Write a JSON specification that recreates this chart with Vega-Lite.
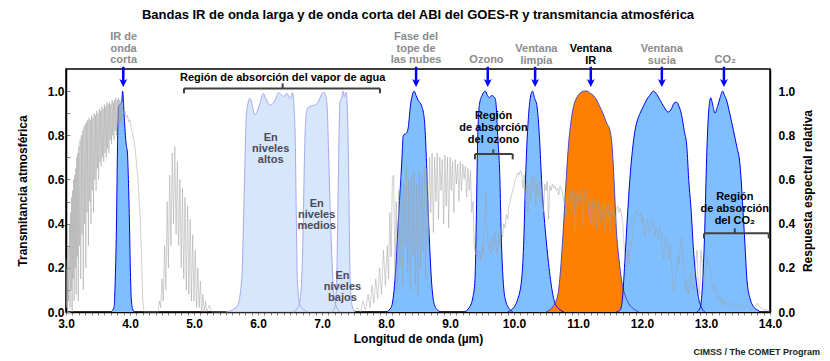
{
  "$schema": "https://vega.github.io/schema/vega-lite/v6.json",
  "width": 704,
  "height": 243,
  "autosize": {"type": "none"},
  "padding": {"left": 66, "top": 69, "right": 60, "bottom": 49},
  "title": {
    "text": "Bandas IR de onda larga y de onda corta del ABI del GOES-R y transmitancia atmosférica",
    "font": "Liberation Sans", "fontSize": 13, "fontWeight": "bold", "color": "black",
    "anchor": "middle", "offset": 9
  },
  "config": {
    "font": "Liberation Sans",
    "view": {"stroke": "black", "strokeWidth": 1.5},
    "axis": {
      "grid": false, "labelFont": "Liberation Sans", "labelFontWeight": "bold", "labelFontSize": 12,
      "labelColor": "black", "titleFont": "Liberation Sans", "titleFontWeight": "bold", "titleFontSize": 12,
      "titleColor": "black", "domainColor": "black", "domainWidth": 1.5, "tickColor": "#888888"
    }
  },
  "datasets": {
    "bands": [
      {"band":"b07","wl":3.70,"r":0},{"band":"b07","wl":3.75,"r":0.02},{"band":"b07","wl":3.77,"r":0.15},{"band":"b07","wl":3.79,"r":0.42},{"band":"b07","wl":3.805,"r":0.75},{"band":"b07","wl":3.82,"r":0.93},{"band":"b07","wl":3.85,"r":0.94},{"band":"b07","wl":3.87,"r":0.95},{"band":"b07","wl":3.885,"r":1.0},{"band":"b07","wl":3.91,"r":0.88},{"band":"b07","wl":3.94,"r":0.76},{"band":"b07","wl":3.96,"r":0.72},{"band":"b07","wl":3.975,"r":0.6},{"band":"b07","wl":3.99,"r":0.42},{"band":"b07","wl":4.005,"r":0.2},{"band":"b07","wl":4.02,"r":0.06},{"band":"b07","wl":4.04,"r":0.015},{"band":"b07","wl":4.07,"r":0},
      {"band":"b08","wl":5.50,"r":0},{"band":"b08","wl":5.60,"r":0.01},{"band":"b08","wl":5.68,"r":0.03},{"band":"b08","wl":5.745,"r":0.145},{"band":"b08","wl":5.79,"r":0.6},{"band":"b08","wl":5.82,"r":0.9},{"band":"b08","wl":5.875,"r":0.967},{"band":"b08","wl":5.953,"r":0.892},{"band":"b08","wl":6.03,"r":0.944},{"band":"b08","wl":6.083,"r":0.989},{"band":"b08","wl":6.13,"r":0.96},{"band":"b08","wl":6.19,"r":0.937},{"band":"b08","wl":6.27,"r":0.96},{"band":"b08","wl":6.32,"r":0.993},{"band":"b08","wl":6.40,"r":0.975},{"band":"b08","wl":6.45,"r":0.99},{"band":"b08","wl":6.50,"r":0.967},{"band":"b08","wl":6.54,"r":0.993},{"band":"b08","wl":6.578,"r":0.824},{"band":"b08","wl":6.6,"r":0.4},{"band":"b08","wl":6.615,"r":0.145},{"band":"b08","wl":6.656,"r":0.03},{"band":"b08","wl":6.72,"r":0.01},{"band":"b08","wl":6.78,"r":0},
      {"band":"b09","wl":6.55,"r":0},{"band":"b09","wl":6.62,"r":0.02},{"band":"b09","wl":6.66,"r":0.06},{"band":"b09","wl":6.70,"r":0.3},{"band":"b09","wl":6.73,"r":0.75},{"band":"b09","wl":6.76,"r":0.91},{"band":"b09","wl":6.80,"r":0.93},{"band":"b09","wl":6.87,"r":0.935},{"band":"b09","wl":6.93,"r":0.945},{"band":"b09","wl":6.97,"r":0.97},{"band":"b09","wl":7.02,"r":0.995},{"band":"b09","wl":7.06,"r":0.98},{"band":"b09","wl":7.085,"r":0.9},{"band":"b09","wl":7.10,"r":0.75},{"band":"b09","wl":7.13,"r":0.45},{"band":"b09","wl":7.15,"r":0.28},{"band":"b09","wl":7.18,"r":0.1},{"band":"b09","wl":7.22,"r":0.03},{"band":"b09","wl":7.28,"r":0},
      {"band":"b10","wl":7.15,"r":0},{"band":"b10","wl":7.20,"r":0.02},{"band":"b10","wl":7.23,"r":0.15},{"band":"b10","wl":7.255,"r":0.6},{"band":"b10","wl":7.28,"r":0.95},{"band":"b10","wl":7.31,"r":0.97},{"band":"b10","wl":7.33,"r":1.0},{"band":"b10","wl":7.35,"r":0.975},{"band":"b10","wl":7.375,"r":0.995},{"band":"b10","wl":7.395,"r":0.93},{"band":"b10","wl":7.41,"r":0.75},{"band":"b10","wl":7.44,"r":0.15},{"band":"b10","wl":7.47,"r":0.03},{"band":"b10","wl":7.52,"r":0},
      {"band":"b11","wl":8.00,"r":0},{"band":"b11","wl":8.08,"r":0.02},{"band":"b11","wl":8.14,"r":0.145},{"band":"b11","wl":8.20,"r":0.45},{"band":"b11","wl":8.245,"r":0.67},{"band":"b11","wl":8.27,"r":0.8},{"band":"b11","wl":8.32,"r":0.81},{"band":"b11","wl":8.35,"r":0.84},{"band":"b11","wl":8.38,"r":0.93},{"band":"b11","wl":8.41,"r":0.98},{"band":"b11","wl":8.44,"r":1.0},{"band":"b11","wl":8.47,"r":0.98},{"band":"b11","wl":8.50,"r":0.96},{"band":"b11","wl":8.56,"r":0.93},{"band":"b11","wl":8.60,"r":0.87},{"band":"b11","wl":8.63,"r":0.7},{"band":"b11","wl":8.66,"r":0.45},{"band":"b11","wl":8.69,"r":0.25},{"band":"b11","wl":8.71,"r":0.145},{"band":"b11","wl":8.75,"r":0.04},{"band":"b11","wl":8.80,"r":0.01},{"band":"b11","wl":8.86,"r":0},
      {"band":"b12","wl":9.22,"r":0},{"band":"b12","wl":9.30,"r":0.02},{"band":"b12","wl":9.36,"r":0.07},{"band":"b12","wl":9.39,"r":0.145},{"band":"b12","wl":9.41,"r":0.4},{"band":"b12","wl":9.43,"r":0.75},{"band":"b12","wl":9.46,"r":0.94},{"band":"b12","wl":9.50,"r":0.98},{"band":"b12","wl":9.55,"r":1.0},{"band":"b12","wl":9.585,"r":0.98},{"band":"b12","wl":9.62,"r":0.97},{"band":"b12","wl":9.65,"r":0.98},{"band":"b12","wl":9.70,"r":0.97},{"band":"b12","wl":9.72,"r":0.94},{"band":"b12","wl":9.745,"r":0.8},{"band":"b12","wl":9.78,"r":0.6},{"band":"b12","wl":9.80,"r":0.35},{"band":"b12","wl":9.83,"r":0.145},{"band":"b12","wl":9.87,"r":0.05},{"band":"b12","wl":9.94,"r":0.01},{"band":"b12","wl":9.98,"r":0},
      {"band":"b13","wl":9.90,"r":0},{"band":"b13","wl":9.96,"r":0.01},{"band":"b13","wl":10.06,"r":0.06},{"band":"b13","wl":10.12,"r":0.15},{"band":"b13","wl":10.15,"r":0.3},{"band":"b13","wl":10.18,"r":0.6},{"band":"b13","wl":10.20,"r":0.75},{"band":"b13","wl":10.23,"r":0.9},{"band":"b13","wl":10.25,"r":0.96},{"band":"b13","wl":10.29,"r":1.0},{"band":"b13","wl":10.32,"r":0.97},{"band":"b13","wl":10.36,"r":0.93},{"band":"b13","wl":10.40,"r":0.78},{"band":"b13","wl":10.43,"r":0.6},{"band":"b13","wl":10.48,"r":0.4},{"band":"b13","wl":10.54,"r":0.22},{"band":"b13","wl":10.60,"r":0.09},{"band":"b13","wl":10.64,"r":0.04},{"band":"b13","wl":10.72,"r":0.01},{"band":"b13","wl":10.78,"r":0},
      {"band":"b14","wl":10.50,"r":0},{"band":"b14","wl":10.56,"r":0.01},{"band":"b14","wl":10.62,"r":0.03},{"band":"b14","wl":10.69,"r":0.085},{"band":"b14","wl":10.73,"r":0.2},{"band":"b14","wl":10.77,"r":0.37},{"band":"b14","wl":10.81,"r":0.57},{"band":"b14","wl":10.85,"r":0.75},{"band":"b14","wl":10.89,"r":0.86},{"band":"b14","wl":10.93,"r":0.93},{"band":"b14","wl":10.98,"r":0.97},{"band":"b14","wl":11.03,"r":0.99},{"band":"b14","wl":11.10,"r":1.0},{"band":"b14","wl":11.14,"r":1.0},{"band":"b14","wl":11.19,"r":0.99},{"band":"b14","wl":11.24,"r":0.98},{"band":"b14","wl":11.29,"r":0.96},{"band":"b14","wl":11.34,"r":0.93},{"band":"b14","wl":11.39,"r":0.9},{"band":"b14","wl":11.44,"r":0.86},{"band":"b14","wl":11.50,"r":0.82},{"band":"b14","wl":11.53,"r":0.76},{"band":"b14","wl":11.55,"r":0.67},{"band":"b14","wl":11.575,"r":0.52},{"band":"b14","wl":11.60,"r":0.37},{"band":"b14","wl":11.64,"r":0.24},{"band":"b14","wl":11.68,"r":0.145},{"band":"b14","wl":11.73,"r":0.08},{"band":"b14","wl":11.79,"r":0.04},{"band":"b14","wl":11.89,"r":0.01},{"band":"b14","wl":11.95,"r":0},
      {"band":"b15","wl":11.60,"r":0},{"band":"b15","wl":11.66,"r":0.01},{"band":"b15","wl":11.70,"r":0.08},{"band":"b15","wl":11.73,"r":0.22},{"band":"b15","wl":11.77,"r":0.42},{"band":"b15","wl":11.81,"r":0.6},{"band":"b15","wl":11.85,"r":0.73},{"band":"b15","wl":11.89,"r":0.82},{"band":"b15","wl":11.93,"r":0.87},{"band":"b15","wl":11.97,"r":0.9},{"band":"b15","wl":12.02,"r":0.93},{"band":"b15","wl":12.07,"r":0.96},{"band":"b15","wl":12.12,"r":0.98},{"band":"b15","wl":12.18,"r":1.0},{"band":"b15","wl":12.23,"r":0.985},{"band":"b15","wl":12.28,"r":0.96},{"band":"b15","wl":12.34,"r":0.93},{"band":"b15","wl":12.41,"r":0.905},{"band":"b15","wl":12.46,"r":0.92},{"band":"b15","wl":12.50,"r":0.945},{"band":"b15","wl":12.54,"r":0.95},{"band":"b15","wl":12.58,"r":0.93},{"band":"b15","wl":12.62,"r":0.89},{"band":"b15","wl":12.66,"r":0.82},{"band":"b15","wl":12.70,"r":0.75},{"band":"b15","wl":12.73,"r":0.6},{"band":"b15","wl":12.77,"r":0.45},{"band":"b15","wl":12.80,"r":0.3},{"band":"b15","wl":12.84,"r":0.16},{"band":"b15","wl":12.88,"r":0.07},{"band":"b15","wl":12.93,"r":0.02},{"band":"b15","wl":12.98,"r":0},
      {"band":"b16","wl":12.86,"r":0},{"band":"b16","wl":12.91,"r":0.02},{"band":"b16","wl":12.95,"r":0.15},{"band":"b16","wl":12.98,"r":0.37},{"band":"b16","wl":13.01,"r":0.7},{"band":"b16","wl":13.04,"r":0.9},{"band":"b16","wl":13.075,"r":0.97},{"band":"b16","wl":13.11,"r":0.93},{"band":"b16","wl":13.14,"r":0.9},{"band":"b16","wl":13.18,"r":0.93},{"band":"b16","wl":13.22,"r":0.97},{"band":"b16","wl":13.26,"r":1.0},{"band":"b16","wl":13.29,"r":0.98},{"band":"b16","wl":13.32,"r":0.96},{"band":"b16","wl":13.37,"r":0.9},{"band":"b16","wl":13.43,"r":0.82},{"band":"b16","wl":13.48,"r":0.75},{"band":"b16","wl":13.53,"r":0.67},{"band":"b16","wl":13.56,"r":0.55},{"band":"b16","wl":13.58,"r":0.45},{"band":"b16","wl":13.61,"r":0.3},{"band":"b16","wl":13.64,"r":0.145},{"band":"b16","wl":13.69,"r":0.06},{"band":"b16","wl":13.74,"r":0.025},{"band":"b16","wl":13.80,"r":0.01},{"band":"b16","wl":13.85,"r":0}
    ],
    "trans": [
      {"wl":3.000,"t":0.24},{"wl":3.008,"t":0.02},{"wl":3.016,"t":0.20},{"wl":3.024,"t":0.00},{"wl":3.032,"t":0.30},{"wl":3.040,"t":0.05},{"wl":3.048,"t":0.18},{"wl":3.056,"t":0.40},{"wl":3.064,"t":0.02},{"wl":3.072,"t":0.45},{"wl":3.080,"t":0.10},{"wl":3.088,"t":0.52},{"wl":3.096,"t":0.00},{"wl":3.104,"t":0.55},{"wl":3.112,"t":0.15},{"wl":3.120,"t":0.60},{"wl":3.128,"t":0.05},{"wl":3.136,"t":0.62},{"wl":3.144,"t":0.20},{"wl":3.152,"t":0.65},{"wl":3.160,"t":0.08},{"wl":3.168,"t":0.70},{"wl":3.176,"t":0.25},{"wl":3.184,"t":0.72},{"wl":3.192,"t":0.05},{"wl":3.200,"t":0.75},{"wl":3.210,"t":0.30},{"wl":3.220,"t":0.78},{"wl":3.230,"t":0.15},{"wl":3.240,"t":0.80},{"wl":3.250,"t":0.35},{"wl":3.260,"t":0.82},{"wl":3.270,"t":0.10},{"wl":3.280,"t":0.84},{"wl":3.290,"t":0.40},{"wl":3.300,"t":0.85},{"wl":3.310,"t":0.20},{"wl":3.320,"t":0.86},{"wl":3.330,"t":0.45},{"wl":3.340,"t":0.87},{"wl":3.350,"t":0.30},{"wl":3.360,"t":0.88},{"wl":3.370,"t":0.50},{"wl":3.380,"t":0.87},{"wl":3.390,"t":0.40},{"wl":3.400,"t":0.89},{"wl":3.410,"t":0.55},{"wl":3.420,"t":0.88},{"wl":3.430,"t":0.45},{"wl":3.440,"t":0.90},{"wl":3.450,"t":0.60},{"wl":3.460,"t":0.89},{"wl":3.470,"t":0.55},{"wl":3.480,"t":0.91},{"wl":3.490,"t":0.65},{"wl":3.500,"t":0.90},{"wl":3.510,"t":0.60},{"wl":3.520,"t":0.92},{"wl":3.530,"t":0.68},{"wl":3.540,"t":0.91},{"wl":3.550,"t":0.66},{"wl":3.560,"t":0.93},{"wl":3.570,"t":0.70},{"wl":3.580,"t":0.92},{"wl":3.590,"t":0.68},{"wl":3.600,"t":0.94},{"wl":3.610,"t":0.72},{"wl":3.620,"t":0.93},{"wl":3.630,"t":0.70},{"wl":3.640,"t":0.95},{"wl":3.650,"t":0.74},{"wl":3.660,"t":0.94},{"wl":3.670,"t":0.72},{"wl":3.680,"t":0.95},{"wl":3.690,"t":0.78},{"wl":3.700,"t":0.94},{"wl":3.710,"t":0.76},{"wl":3.720,"t":0.96},{"wl":3.730,"t":0.80},{"wl":3.740,"t":0.95},{"wl":3.750,"t":0.78},{"wl":3.760,"t":0.96},{"wl":3.770,"t":0.82},{"wl":3.780,"t":0.97},{"wl":3.790,"t":0.80},{"wl":3.800,"t":0.96},{"wl":3.810,"t":0.85},{"wl":3.820,"t":0.97},{"wl":3.830,"t":0.83},{"wl":3.840,"t":0.96},{"wl":3.850,"t":0.86},{"wl":3.860,"t":0.95},{"wl":3.870,"t":0.84},{"wl":3.880,"t":0.93},{"wl":3.900,"t":0.90},{"wl":3.920,"t":0.91},{"wl":3.940,"t":0.88},{"wl":3.960,"t":0.89},{"wl":3.980,"t":0.86},{"wl":4.000,"t":0.87},{"wl":4.020,"t":0.83},{"wl":4.040,"t":0.81},{"wl":4.060,"t":0.78},{"wl":4.080,"t":0.74},{"wl":4.100,"t":0.68},{"wl":4.120,"t":0.62},{"wl":4.140,"t":0.52},{"wl":4.160,"t":0.42},{"wl":4.180,"t":0.25},{"wl":4.200,"t":0.05},{"wl":4.220,"t":0.00},
      {"wl":4.44,"t":0.00},{"wl":4.46,"t":0.05},{"wl":4.48,"t":0.02},{"wl":4.50,"t":0.15},{"wl":4.52,"t":0.05},{"wl":4.54,"t":0.30},{"wl":4.56,"t":0.10},{"wl":4.58,"t":0.50},{"wl":4.60,"t":0.20},{"wl":4.62,"t":0.62},{"wl":4.64,"t":0.30},{"wl":4.66,"t":0.72},{"wl":4.68,"t":0.40},{"wl":4.70,"t":0.75},{"wl":4.72,"t":0.35},{"wl":4.74,"t":0.68},{"wl":4.76,"t":0.30},{"wl":4.78,"t":0.60},{"wl":4.80,"t":0.20},{"wl":4.82,"t":0.56},{"wl":4.84,"t":0.15},{"wl":4.86,"t":0.52},{"wl":4.88,"t":0.10},{"wl":4.90,"t":0.48},{"wl":4.92,"t":0.08},{"wl":4.94,"t":0.42},{"wl":4.96,"t":0.05},{"wl":4.98,"t":0.35},{"wl":5.00,"t":0.05},{"wl":5.02,"t":0.28},{"wl":5.04,"t":0.02},{"wl":5.06,"t":0.20},{"wl":5.08,"t":0.02},{"wl":5.10,"t":0.14},{"wl":5.12,"t":0.00},{"wl":5.14,"t":0.08},{"wl":5.16,"t":0.00},{"wl":5.18,"t":0.05},{"wl":5.20,"t":0.00},{"wl":5.24,"t":0.03},{"wl":5.28,"t":0.00},{"wl":7.50,"t":0.00},
      {"wl":7.55,"t":0.02},{"wl":7.60,"t":0.00},{"wl":7.64,"t":0.05},{"wl":7.68,"t":0.01},{"wl":7.72,"t":0.08},{"wl":7.75,"t":0.02},{"wl":7.78,"t":0.12},{"wl":7.81,"t":0.04},{"wl":7.84,"t":0.15},{"wl":7.87,"t":0.06},{"wl":7.90,"t":0.20},{"wl":7.93,"t":0.08},{"wl":7.96,"t":0.28},{"wl":7.99,"t":0.12},{"wl":8.02,"t":0.30},{"wl":8.04,"t":0.15},{"wl":8.06,"t":0.45},{"wl":8.08,"t":0.25},{"wl":8.10,"t":0.60},{"wl":8.12,"t":0.62},{"wl":8.14,"t":0.15},{"wl":8.16,"t":0.50},{"wl":8.18,"t":0.10},{"wl":8.20,"t":0.55},{"wl":8.22,"t":0.20},{"wl":8.24,"t":0.62},{"wl":8.26,"t":0.12},{"wl":8.28,"t":0.58},{"wl":8.30,"t":0.30},{"wl":8.32,"t":0.66},{"wl":8.34,"t":0.18},{"wl":8.36,"t":0.60},{"wl":8.38,"t":0.10},{"wl":8.40,"t":0.62},{"wl":8.42,"t":0.25},{"wl":8.44,"t":0.64},{"wl":8.46,"t":0.12},{"wl":8.48,"t":0.58},{"wl":8.50,"t":0.08},{"wl":8.52,"t":0.64},{"wl":8.54,"t":0.20},{"wl":8.56,"t":0.62},{"wl":8.58,"t":0.28},{"wl":8.60,"t":0.66},{"wl":8.62,"t":0.15},{"wl":8.64,"t":0.65},{"wl":8.66,"t":0.35},{"wl":8.68,"t":0.70},{"wl":8.70,"t":0.45},{"wl":8.72,"t":0.72},{"wl":8.74,"t":0.36},{"wl":8.76,"t":0.70},{"wl":8.78,"t":0.50},{"wl":8.80,"t":0.72},{"wl":8.82,"t":0.42},{"wl":8.84,"t":0.70},{"wl":8.86,"t":0.55},{"wl":8.88,"t":0.69},{"wl":8.90,"t":0.40},{"wl":8.92,"t":0.71},{"wl":8.94,"t":0.48},{"wl":8.96,"t":0.70},{"wl":8.98,"t":0.38},{"wl":9.00,"t":0.70},{"wl":9.02,"t":0.55},{"wl":9.04,"t":0.68},{"wl":9.06,"t":0.45},{"wl":9.08,"t":0.69},{"wl":9.10,"t":0.58},{"wl":9.12,"t":0.67},{"wl":9.14,"t":0.50},{"wl":9.16,"t":0.68},{"wl":9.18,"t":0.55},{"wl":9.20,"t":0.67},{"wl":9.22,"t":0.60},{"wl":9.24,"t":0.66},{"wl":9.26,"t":0.52},{"wl":9.28,"t":0.65},{"wl":9.30,"t":0.55},{"wl":9.32,"t":0.64},{"wl":9.34,"t":0.45},{"wl":9.36,"t":0.50},{"wl":9.38,"t":0.30},{"wl":9.40,"t":0.26},{"wl":9.42,"t":0.30},{"wl":9.44,"t":0.24},{"wl":9.46,"t":0.28},{"wl":9.48,"t":0.23},{"wl":9.50,"t":0.30},{"wl":9.52,"t":0.26},{"wl":9.54,"t":0.40},{"wl":9.56,"t":0.54},{"wl":9.58,"t":0.35},{"wl":9.60,"t":0.28},{"wl":9.62,"t":0.32},{"wl":9.64,"t":0.26},{"wl":9.66,"t":0.34},{"wl":9.68,"t":0.28},{"wl":9.70,"t":0.36},{"wl":9.72,"t":0.30},{"wl":9.74,"t":0.26},{"wl":9.76,"t":0.36},{"wl":9.78,"t":0.30},{"wl":9.80,"t":0.38},{"wl":9.82,"t":0.34},{"wl":9.84,"t":0.40},{"wl":9.86,"t":0.38},{"wl":9.88,"t":0.44},{"wl":9.90,"t":0.42},{"wl":9.92,"t":0.48},{"wl":9.94,"t":0.50},{"wl":9.96,"t":0.53},{"wl":9.98,"t":0.55},{"wl":10.00,"t":0.57},{"wl":10.02,"t":0.60},{"wl":10.04,"t":0.61},{"wl":10.06,"t":0.63},{"wl":10.08,"t":0.62},{"wl":10.10,"t":0.64},{"wl":10.12,"t":0.63},{"wl":10.14,"t":0.56},{"wl":10.16,"t":0.62},{"wl":10.18,"t":0.50},{"wl":10.20,"t":0.60},{"wl":10.22,"t":0.45},{"wl":10.24,"t":0.58},{"wl":10.26,"t":0.50},{"wl":10.28,"t":0.62},{"wl":10.30,"t":0.55},{"wl":10.32,"t":0.61},{"wl":10.34,"t":0.48},{"wl":10.36,"t":0.58},{"wl":10.38,"t":0.52},{"wl":10.40,"t":0.60},{"wl":10.42,"t":0.50},{"wl":10.44,"t":0.57},{"wl":10.46,"t":0.45},{"wl":10.48,"t":0.58},{"wl":10.50,"t":0.55},{"wl":10.52,"t":0.59},{"wl":10.54,"t":0.42},{"wl":10.56,"t":0.57},{"wl":10.58,"t":0.55},{"wl":10.60,"t":0.58},{"wl":10.62,"t":0.56},{"wl":10.64,"t":0.57},{"wl":10.66,"t":0.55},{"wl":10.68,"t":0.56},{"wl":10.70,"t":0.53},{"wl":10.72,"t":0.57},{"wl":10.75,"t":0.55},{"wl":10.78,"t":0.50},{"wl":10.80,"t":0.54},{"wl":10.82,"t":0.44},{"wl":10.84,"t":0.52},{"wl":10.86,"t":0.50},{"wl":10.88,"t":0.55},{"wl":10.90,"t":0.45},{"wl":10.92,"t":0.56},{"wl":10.94,"t":0.52},{"wl":10.96,"t":0.36},{"wl":10.98,"t":0.54},{"wl":11.00,"t":0.48},{"wl":11.02,"t":0.56},{"wl":11.04,"t":0.50},{"wl":11.06,"t":0.55},{"wl":11.08,"t":0.38},{"wl":11.10,"t":0.54},{"wl":11.12,"t":0.52},{"wl":11.14,"t":0.56},{"wl":11.16,"t":0.44},{"wl":11.18,"t":0.54},{"wl":11.20,"t":0.40},{"wl":11.22,"t":0.52},{"wl":11.24,"t":0.38},{"wl":11.26,"t":0.50},{"wl":11.28,"t":0.46},{"wl":11.30,"t":0.36},{"wl":11.32,"t":0.50},{"wl":11.34,"t":0.38},{"wl":11.36,"t":0.48},{"wl":11.38,"t":0.42},{"wl":11.40,"t":0.50},{"wl":11.42,"t":0.36},{"wl":11.44,"t":0.48},{"wl":11.46,"t":0.40},{"wl":11.48,"t":0.49},{"wl":11.50,"t":0.36},{"wl":11.52,"t":0.48},{"wl":11.54,"t":0.44},{"wl":11.56,"t":0.47},{"wl":11.58,"t":0.40},{"wl":11.60,"t":0.46},{"wl":11.62,"t":0.48},{"wl":11.64,"t":0.45},{"wl":11.66,"t":0.47},{"wl":11.68,"t":0.44},{"wl":11.70,"t":0.40},{"wl":11.72,"t":0.30},{"wl":11.74,"t":0.22},{"wl":11.76,"t":0.20},{"wl":11.78,"t":0.28},{"wl":11.80,"t":0.22},{"wl":11.82,"t":0.32},{"wl":11.84,"t":0.30},{"wl":11.86,"t":0.38},{"wl":11.88,"t":0.42},{"wl":11.90,"t":0.45},{"wl":11.92,"t":0.46},{"wl":11.94,"t":0.44},{"wl":11.96,"t":0.43},{"wl":11.98,"t":0.45},{"wl":12.00,"t":0.40},{"wl":12.02,"t":0.43},{"wl":12.04,"t":0.34},{"wl":12.06,"t":0.36},{"wl":12.08,"t":0.42},{"wl":12.10,"t":0.40},{"wl":12.12,"t":0.36},{"wl":12.14,"t":0.38},{"wl":12.16,"t":0.42},{"wl":12.18,"t":0.40},{"wl":12.20,"t":0.34},{"wl":12.22,"t":0.38},{"wl":12.24,"t":0.36},{"wl":12.26,"t":0.33},{"wl":12.28,"t":0.39},{"wl":12.30,"t":0.36},{"wl":12.32,"t":0.28},{"wl":12.34,"t":0.24},{"wl":12.36,"t":0.32},{"wl":12.38,"t":0.34},{"wl":12.40,"t":0.28},{"wl":12.42,"t":0.24},{"wl":12.44,"t":0.30},{"wl":12.46,"t":0.22},{"wl":12.48,"t":0.12},{"wl":12.50,"t":0.09},{"wl":12.52,"t":0.14},{"wl":12.54,"t":0.20},{"wl":12.56,"t":0.25},{"wl":12.58,"t":0.22},{"wl":12.60,"t":0.30},{"wl":12.62,"t":0.34},{"wl":12.64,"t":0.25},{"wl":12.66,"t":0.18},{"wl":12.68,"t":0.10},{"wl":12.70,"t":0.14},{"wl":12.72,"t":0.08},{"wl":12.74,"t":0.12},{"wl":12.76,"t":0.18},{"wl":12.78,"t":0.12},{"wl":12.80,"t":0.10},{"wl":12.82,"t":0.16},{"wl":12.84,"t":0.22},{"wl":12.86,"t":0.28},{"wl":12.88,"t":0.10},{"wl":12.90,"t":0.08},{"wl":12.92,"t":0.28},{"wl":12.94,"t":0.22},{"wl":12.96,"t":0.12},{"wl":12.98,"t":0.16},{"wl":13.00,"t":0.20},{"wl":13.02,"t":0.25},{"wl":13.04,"t":0.22},{"wl":13.06,"t":0.20},{"wl":13.08,"t":0.18},{"wl":13.10,"t":0.12},{"wl":13.12,"t":0.10},{"wl":13.14,"t":0.12},{"wl":13.16,"t":0.08},{"wl":13.18,"t":0.06},{"wl":13.20,"t":0.05},{"wl":13.22,"t":0.07},{"wl":13.24,"t":0.04},{"wl":13.26,"t":0.06},{"wl":13.28,"t":0.03},{"wl":13.30,"t":0.05},{"wl":13.34,"t":0.03},{"wl":13.38,"t":0.05},{"wl":13.42,"t":0.02},{"wl":13.46,"t":0.04},{"wl":13.50,"t":0.02},{"wl":13.55,"t":0.04},{"wl":13.60,"t":0.02},{"wl":13.65,"t":0.03},{"wl":13.70,"t":0.01},{"wl":13.75,"t":0.02},{"wl":13.80,"t":0.04},{"wl":13.85,"t":0.02},{"wl":13.90,"t":0.01},{"wl":13.95,"t":0.01},{"wl":14.00,"t":0.00}
    ],
    "segs": [
      {"x":4.844,"x2":7.906,"y":1.012,"y2":1.012},{"x":4.844,"x2":4.844,"y":1.012,"y2":0.99},{"x":7.906,"x2":7.906,"y":1.012,"y2":0.99},{"x":6.385,"x2":6.385,"y":1.012,"y2":1.035},
      {"x":9.39,"x2":9.98,"y":0.715,"y2":0.715},{"x":9.39,"x2":9.39,"y":0.715,"y2":0.691},{"x":9.98,"x2":9.98,"y":0.715,"y2":0.691},{"x":9.677,"x2":9.677,"y":0.715,"y2":0.736},
      {"x":12.969,"x2":13.98,"y":0.356,"y2":0.356},{"x":12.969,"x2":12.969,"y":0.356,"y2":0.333},{"x":13.98,"x2":13.98,"y":0.356,"y2":0.333},{"x":13.45,"x2":13.45,"y":0.356,"y2":0.379}
    ],
    "arrows": [
      {"x":3.895,"top":1.11,"bot":1.045,"head":1.037},
      {"x":8.47,"top":1.11,"bot":1.045,"head":1.037},
      {"x":9.59,"top":1.11,"bot":1.045,"head":1.037},
      {"x":10.33,"top":1.11,"bot":1.045,"head":1.037},
      {"x":11.2,"top":1.11,"bot":1.045,"head":1.037},
      {"x":12.31,"top":1.11,"bot":1.045,"head":1.037},
      {"x":13.28,"top":1.11,"bot":1.045,"head":1.037}
    ]
  },
  "resolve": {"axis": {"x": "independent", "y": "independent"}},
  "layer": [
    {
      "data": {"name": "bands"},
      "mark": {"type": "area", "interpolate": "monotone", "opacity": 1},
      "encoding": {
        "x": {"field": "wl", "type": "quantitative", "scale": {"domain": [3, 14], "nice": false, "zero": false},
          "axis": {"title": "Longitud de onda (µm)", "values": [3,3.1,3.2,3.3,3.4,3.5,3.6,3.7,3.8,3.9,4,4.1,4.2,4.3,4.4,4.5,4.6,4.7,4.8,4.9,5,5.1,5.2,5.3,5.4,5.5,5.6,5.7,5.8,5.9,6,6.1,6.2,6.3,6.4,6.5,6.6,6.7,6.8,6.9,7,7.1,7.2,7.3,7.4,7.5,7.6,7.7,7.8,7.9,8,8.1,8.2,8.3,8.4,8.5,8.6,8.7,8.8,8.9,9,9.1,9.2,9.3,9.4,9.5,9.6,9.7,9.8,9.9,10,10.1,10.2,10.3,10.4,10.5,10.6,10.7,10.8,10.9,11,11.1,11.2,11.3,11.4,11.5,11.6,11.7,11.8,11.9,12,12.1,12.2,12.3,12.4,12.5,12.6,12.7,12.8,12.9,13,13.1,13.2,13.3,13.4,13.5,13.6,13.7,13.8,13.9,14],
            "labelExpr": "abs(datum.value - round(datum.value)) < 0.001 ? format(datum.value, '.1f') : ''",
            "labelOverlap": false, "labelFlush": false, "tickSize": 3, "labelPadding": 3, "titlePadding": 4}},
        "y": {"field": "r", "type": "quantitative", "stack": null, "scale": {"domain": [0, 1.1], "nice": false},
          "axis": {"orient": "right", "title": "Respuesta espectral relativa", "values": [0,0.2,0.4,0.6,0.8,1.0], "format": ".1f",
            "ticks": false, "labelPadding": 8, "titleAngle": 270, "titlePadding": 20}},
        "fill": {"field": "band", "type": "nominal", "legend": null,
          "scale": {"domain": ["b07","b08","b09","b10","b11","b12","b13","b14","b15","b16"],
            "range": ["#80bfff","#d6e6fb","#d6e6fb","#d6e6fb","#80bfff","#80bfff","#80bfff","#ff8000","#80bfff","#80bfff"]}}
      }
    },
    {
      "data": {"name": "bands"},
      "mark": {"type": "line", "interpolate": "monotone", "strokeWidth": 1},
      "encoding": {
        "x": {"field": "wl", "type": "quantitative", "scale": {"domain": [3, 14], "nice": false, "zero": false}, "axis": null},
        "y": {"field": "r", "type": "quantitative", "scale": {"domain": [0, 1.1], "nice": false}, "axis": null},
        "stroke": {"field": "band", "type": "nominal", "legend": null,
          "scale": {"domain": ["b07","b08","b09","b10","b11","b12","b13","b14","b15","b16"],
            "range": ["#0000ee","#a8a8f0","#a8a8f0","#a8a8f0","#0000ee","#0000ee","#0000ee","#4646c8","#0000ee","#0000ee"]}}
      }
    },
    {
      "data": {"name": "trans"},
      "mark": {"type": "line", "color": "#a0a0a0", "opacity": 0.55, "strokeWidth": 0.9},
      "encoding": {
        "x": {"field": "wl", "type": "quantitative", "scale": {"domain": [3, 14], "nice": false, "zero": false}, "axis": null},
        "y": {"field": "t", "type": "quantitative", "scale": {"domain": [0, 1.1], "nice": false},
          "axis": {"orient": "left", "title": "Transmitancia atmosférica", "values": [0,0.1,0.2,0.3,0.4,0.5,0.6,0.7,0.8,0.9,1.0],
            "labelExpr": "round(datum.value*10) % 2 === 0 ? format(datum.value, '.1f') : ''",
            "tickSize": -4, "labelPadding": 6, "titlePadding": 18}}
      }
    },
    {
      "data": {"name": "segs"},
      "mark": {"type": "rule", "color": "#404040", "strokeWidth": 2},
      "encoding": {
        "x": {"field": "x", "type": "quantitative", "scale": {"domain": [3, 14], "nice": false, "zero": false}, "axis": null},
        "x2": {"field": "x2"},
        "y": {"field": "y", "type": "quantitative", "scale": {"domain": [0, 1.1], "nice": false}, "axis": null},
        "y2": {"field": "y2"}
      }
    },
    {
      "data": {"name": "arrows"},
      "mark": {"type": "rule", "color": "#0000ff", "strokeWidth": 2.5},
      "encoding": {
        "x": {"field": "x", "type": "quantitative", "scale": {"domain": [3, 14], "nice": false, "zero": false}, "axis": null},
        "y": {"field": "top", "type": "quantitative", "scale": {"domain": [0, 1.1], "nice": false}, "axis": null},
        "y2": {"field": "bot"}
      }
    },
    {
      "data": {"name": "arrows"},
      "mark": {"type": "point", "shape": "M-1,-1L0,1L1,-1L0,-0.4Z", "filled": true, "color": "#0000ff", "opacity": 1, "size": 64},
      "encoding": {
        "x": {"field": "x", "type": "quantitative", "scale": {"domain": [3, 14], "nice": false, "zero": false}, "axis": null},
        "y": {"field": "head", "type": "quantitative", "scale": {"domain": [0, 1.1], "nice": false}, "axis": null}
      }
    },
    {
      "data": {"values": [
        {"x": 3.9, "y": 1.243, "label": "IR de\nonda\ncorta"},
        {"x": 8.47, "y": 1.243, "label": "Fase del\ntope de\nlas nubes"},
        {"x": 9.57, "y": 1.14, "label": "Ozono"},
        {"x": 10.35, "y": 1.19, "label": "Ventana\nlimpia"},
        {"x": 12.31, "y": 1.19, "label": "Ventana\nsucia"},
        {"x": 13.3, "y": 1.14, "label": "CO₂"}
      ]},
      "mark": {"type": "text", "font": "Liberation Sans", "fontSize": 11, "fontWeight": "bold", "color": "#8c8c8c", "lineBreak": "\n", "lineHeight": 11.5, "baseline": "middle", "align": "center"},
      "encoding": {
        "x": {"field": "x", "type": "quantitative", "scale": {"domain": [3, 14], "nice": false, "zero": false}, "axis": null},
        "y": {"field": "y", "type": "quantitative", "scale": {"domain": [0, 1.1], "nice": false}, "axis": null},
        "text": {"field": "label"}
      }
    },
    {
      "data": {"values": [
        {"x": 11.2, "y": 1.19, "label": "Ventana\nIR"}
      ]},
      "mark": {"type": "text", "font": "Liberation Sans", "fontSize": 11, "fontWeight": "bold", "color": "#000000", "lineBreak": "\n", "lineHeight": 11.5, "baseline": "middle", "align": "center"},
      "encoding": {
        "x": {"field": "x", "type": "quantitative", "scale": {"domain": [3, 14], "nice": false, "zero": false}, "axis": null},
        "y": {"field": "y", "type": "quantitative", "scale": {"domain": [0, 1.1], "nice": false}, "axis": null},
        "text": {"field": "label"}
      }
    },
    {
      "data": {"values": [
        {"x": 6.385, "y": 1.06, "label": "Región de absorción del vapor de agua"},
        {"x": 9.68, "y": 0.887, "label": "Región\nde absorción\ndel ozono"},
        {"x": 13.45, "y": 0.522, "label": "Región\nde absorción\ndel CO₂"}
      ]},
      "mark": {"type": "text", "font": "Liberation Sans", "fontSize": 11, "fontWeight": "bold", "color": "#000000", "lineBreak": "\n", "lineHeight": 12, "baseline": "middle", "align": "center"},
      "encoding": {
        "x": {"field": "x", "type": "quantitative", "scale": {"domain": [3, 14], "nice": false, "zero": false}, "axis": null},
        "y": {"field": "y", "type": "quantitative", "scale": {"domain": [0, 1.1], "nice": false}, "axis": null},
        "text": {"field": "label"}
      }
    },
    {
      "data": {"values": [
        {"x": 6.198, "y": 0.786, "label": "En\nniveles\naltos"},
        {"x": 6.917, "y": 0.487, "label": "En\nniveles\nmedios"},
        {"x": 7.32, "y": 0.163, "label": "En\nniveles\nbajos"}
      ]},
      "mark": {"type": "text", "font": "Liberation Sans", "fontSize": 11, "fontWeight": "bold", "color": "#4a4a58", "lineBreak": "\n", "lineHeight": 11, "baseline": "middle", "align": "center"},
      "encoding": {
        "x": {"field": "x", "type": "quantitative", "scale": {"domain": [3, 14], "nice": false, "zero": false}, "axis": null},
        "y": {"field": "y", "type": "quantitative", "scale": {"domain": [0, 1.1], "nice": false}, "axis": null},
        "text": {"field": "label"}
      }
    },
    {
      "data": {"values": [
        {"x": 14.78, "y": -0.181, "label": "CIMSS / The COMET Program"}
      ]},
      "mark": {"type": "text", "font": "Liberation Sans", "fontSize": 9, "fontWeight": "bold", "color": "#222222", "baseline": "middle", "align": "right"},
      "encoding": {
        "x": {"field": "x", "type": "quantitative", "scale": {"domain": [3, 14], "nice": false, "zero": false}, "axis": null},
        "y": {"field": "y", "type": "quantitative", "scale": {"domain": [0, 1.1], "nice": false}, "axis": null},
        "text": {"field": "label"}
      }
    }
  ]
}
